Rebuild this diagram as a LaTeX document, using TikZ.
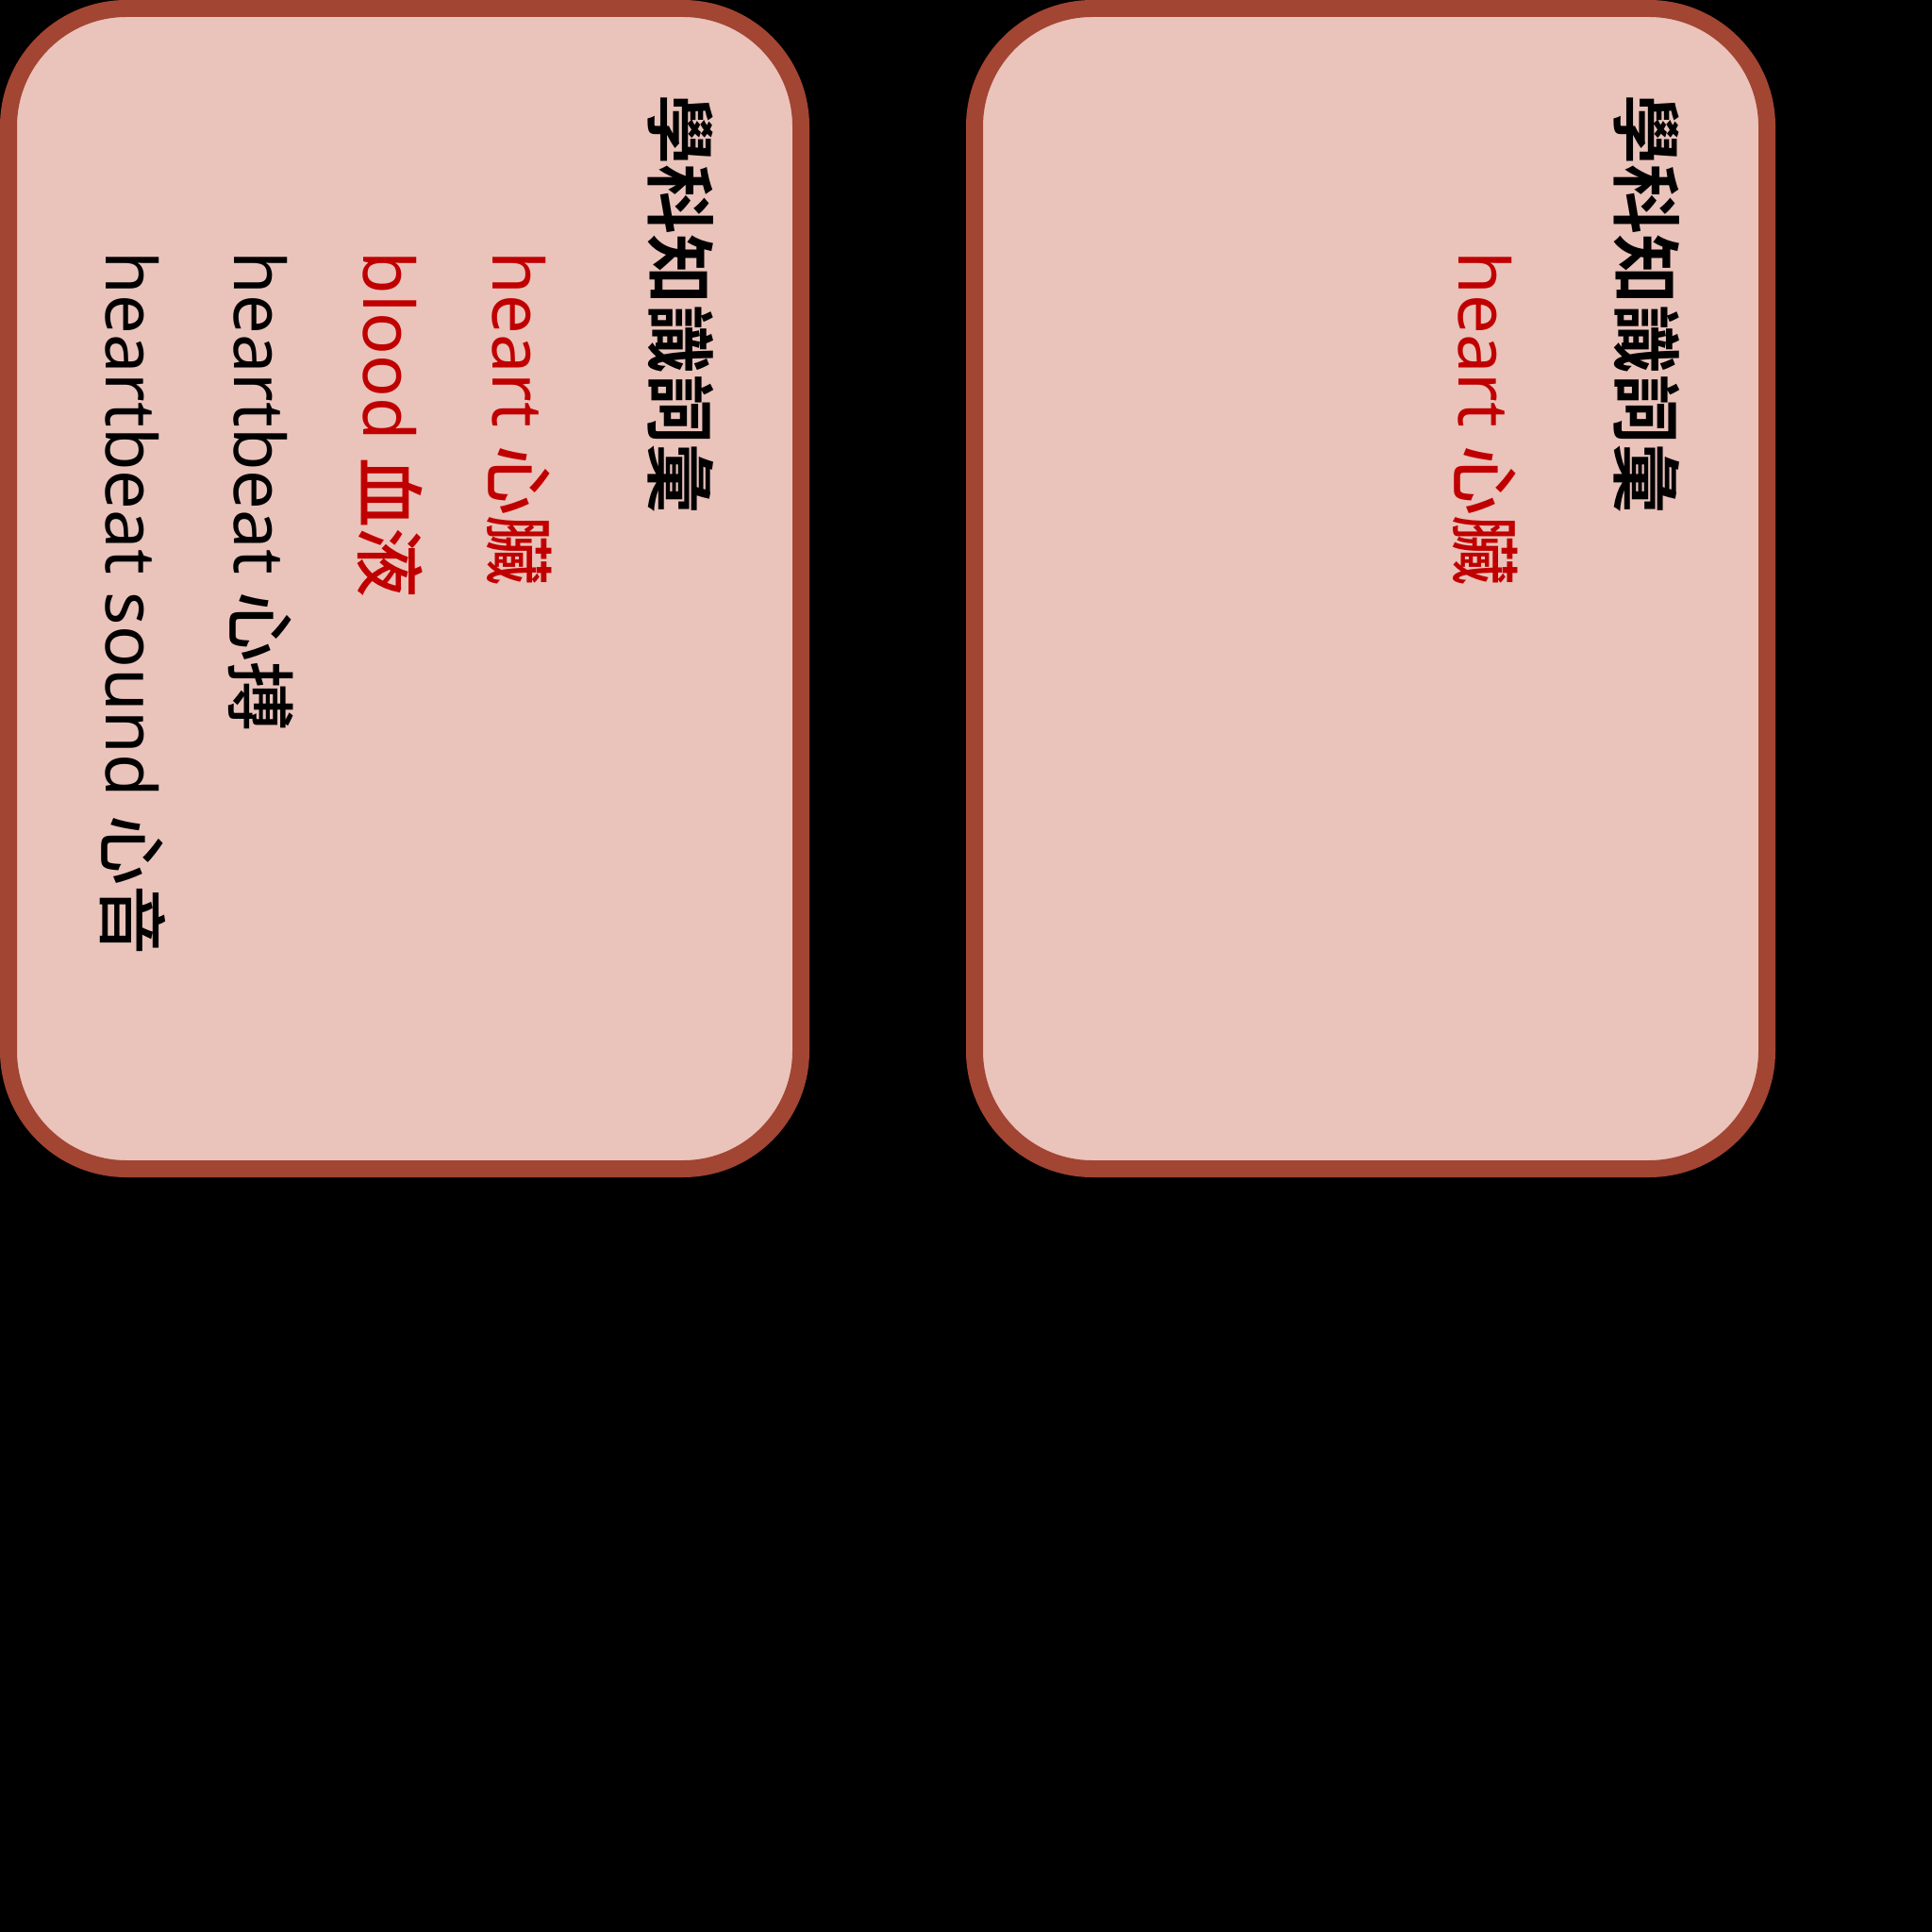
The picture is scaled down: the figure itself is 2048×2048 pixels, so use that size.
\documentclass[tikz,border=0pt]{standalone}
\usepackage{fontspec}
\setmainfont{Noto Sans}
\newfontfamily\cjk{Noto Sans CJK TC Medium}
\newfontfamily\cjkb{Noto Sans CJK TC Bold}
\definecolor{cardfill}{RGB}{234,195,187}
\definecolor{carddraw}{RGB}{162,69,50}
\definecolor{wordred}{RGB}{192,0,0}
\tikzset{
  card/.style={draw=carddraw, fill=cardfill, line width=9pt, rounded corners=62.5pt,
    minimum width=420pt, minimum height=615pt, inner sep=0pt, outer sep=0pt},
  vtext/.style={rotate=-90, anchor=base west, inner sep=0pt, outer sep=0pt,
    font=\fontsize{37pt}{44pt}\selectfont},
  vtitle/.style={vtext, font=\fontsize{37pt}{44pt}\selectfont\cjkb},
  redword/.style={vtext, text=wordred},
  blackword/.style={vtext, text=black}
}
\begin{document}
\begin{tikzpicture}[x=0.5pt,y=-0.5pt]
\fill[black] (0,0) rectangle (2048,2048);
\useasboundingbox (0,0) rectangle (2048,2048);
% card 1
\node[card] (card1) at (429,624) {};
\node[vtitle] (t1) at (693,101) {學科知識詞彙};
\node[redword] (w11) at (522,267) {heart {\cjk 心臟}};
\node[redword] (w12) at (385,267) {blood {\cjk 血液}};
\node[blackword] (w13) at (248,267) {heartbeat {\cjk 心搏}};
\node[blackword] (w14) at (112,267) {heartbeat sound {\cjk 心音}};
% card 2
\node[card] (card2) at (1453,624) {};
\node[vtitle] (t2) at (1717,101) {學科知識詞彙};
\node[redword] (w21) at (1546,267) {heart {\cjk 心臟}};
\end{tikzpicture}
\end{document}
